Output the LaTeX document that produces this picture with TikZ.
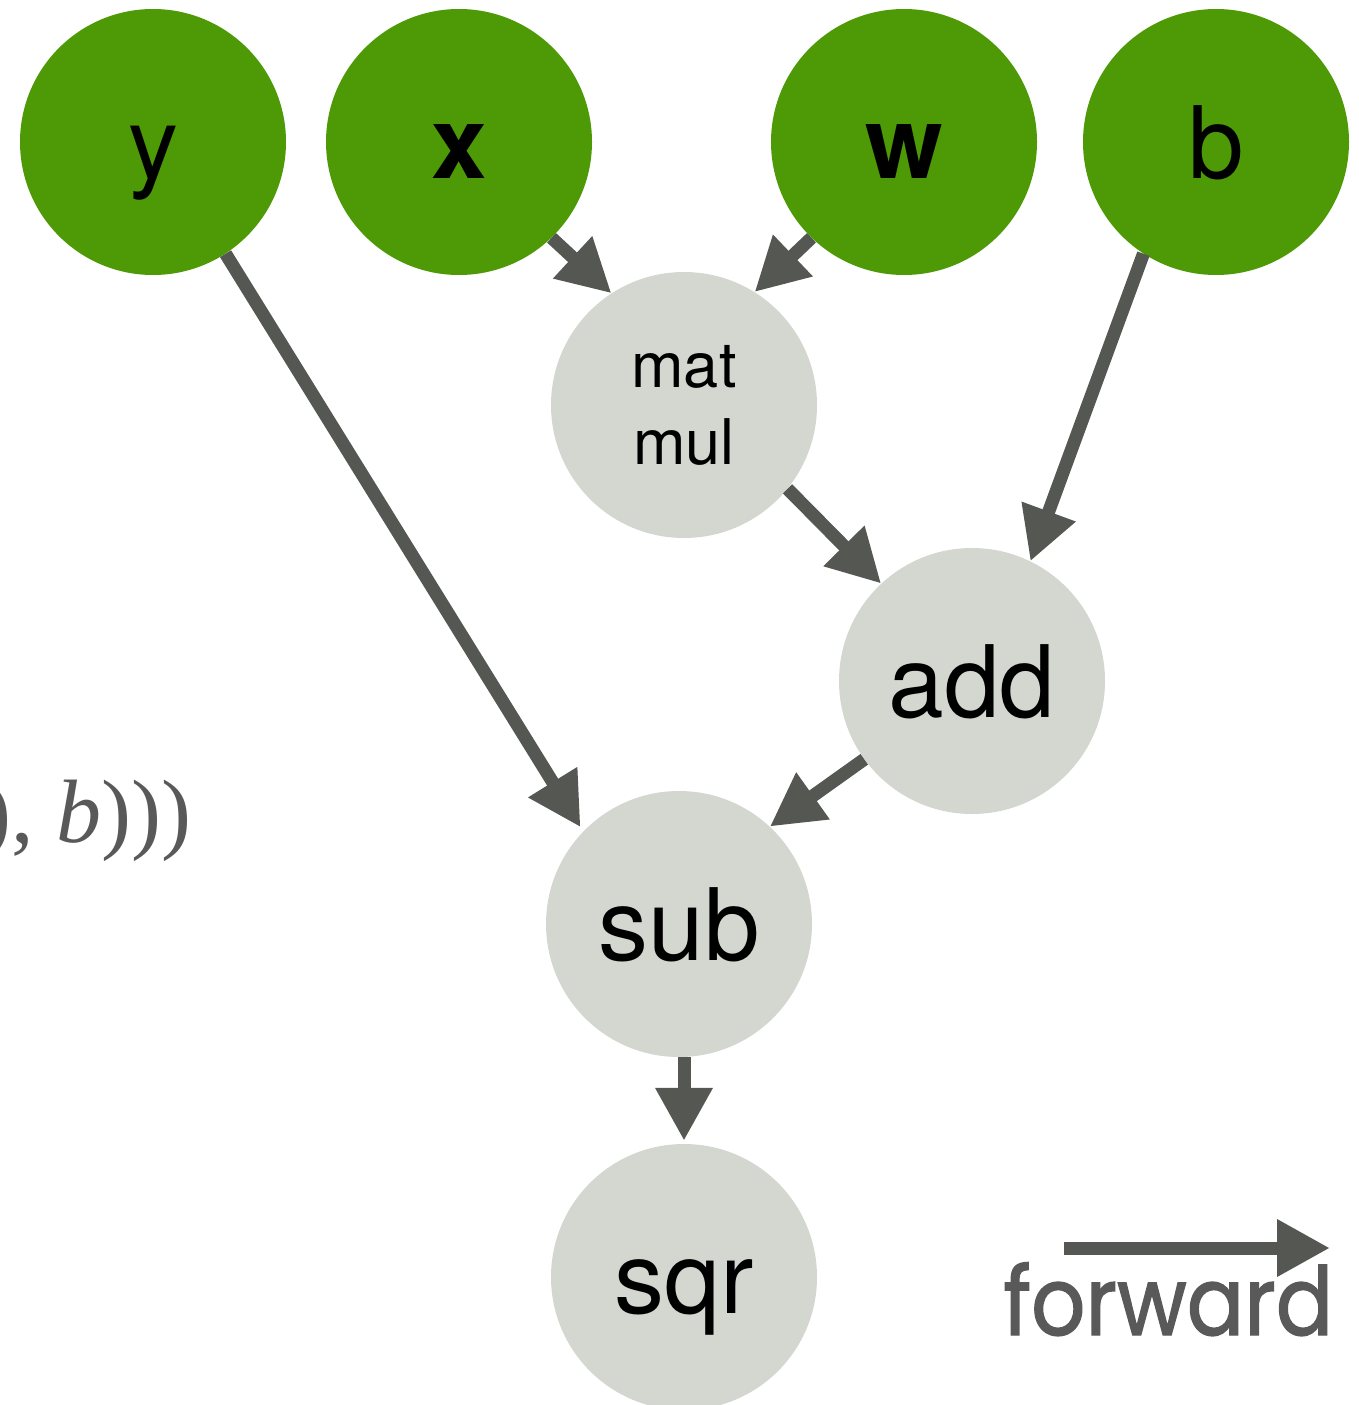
\documentclass[tikz,border=0pt]{standalone}
\usepackage{fontspec}
\setmainfont{TeX Gyre Heros}
\newfontfamily\fwdfont{Poppins}[FakeBold=1.5]
\newfontfamily\formulafont{Liberation Serif}
\usetikzlibrary{arrows.meta}
\definecolor{leafgreen}{HTML}{4E9A06}
\definecolor{opgray}{HTML}{D3D7CF}
\definecolor{edgegray}{HTML}{555753}
\definecolor{textgray}{HTML}{595959}

\begin{document}
\begin{tikzpicture}[x=1pt,y=-1pt,
    disc/.style={circle,minimum size=266pt,inner sep=0pt},
    var/.style={disc,fill=leafgreen,text height=72pt,text depth=0pt,font=\fontsize{100}{110}\selectfont},
    op/.style={disc,fill=opgray,text height=72pt,text depth=0pt,font=\fontsize{100}{110}\selectfont},
    flow/.style={draw=edgegray,line width=13pt,-{Triangle[width=54pt,length=53pt]}}]
    \useasboundingbox (0,0) rectangle (1359,1405);
    \clip (0,0) rectangle (1359,1405);
    \node[var] (y) at (153,142) {y};
    \node[var] (x) at (459,142) {\bfseries x};
    \node[var] (w) at (904,142) {\bfseries w};
    \node[var] (b) at (1216,142) {b};
    \node[disc,fill=opgray,align=center,font=\fontsize{63}{77}\selectfont] (matmul) at (684,405) {mat\\mul};
    \node[op] (add) at (972,681) {add};
    \node[op] (sub) at (679,924) {sub};
    \node[op] (sqr) at (684,1277) {sqr};
    \draw[flow,shorten >=5pt] (y.-57) -- (sub.136);
    \draw[flow] (x.-46) -- (matmul.123);
    \draw[flow] (w.-134) -- (matmul.58);
    \draw[flow] (b.-123) -- (add.64);
    \draw[flow] (matmul.-39) -- (add.133);
    \draw[flow] (add.-144) -- (sub.47);
    \draw[flow,shorten >=3pt] (sqr.north |- sub.south) -- (sqr.north);
    \node[anchor=base east,inner sep=0pt,text=textgray,font=\formulafont\fontsize{90}{100}\selectfont] (formula) at (192,842) {), \textit{b})))};
    \coordinate (fwdtail) at (1064,1248);
    \coordinate (fwdhead) at (1330,1248);
    \draw[flow] (fwdtail) -- (fwdhead);
    \node[anchor=base west,inner sep=0pt,text=textgray,font=\fwdfont\fontsize{95}{100}\selectfont] (fwdlabel) at (1003,1335) {\resizebox{330pt}{\height}{forward}};
\end{tikzpicture}
\end{document}
